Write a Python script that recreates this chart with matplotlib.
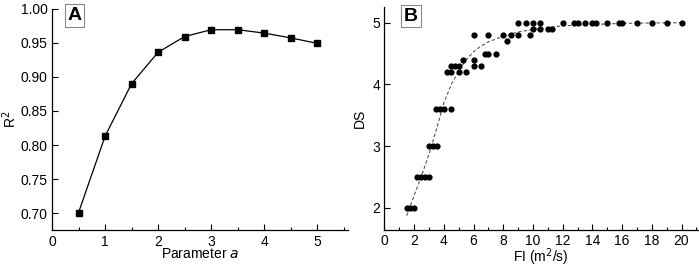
import matplotlib
matplotlib.use('Agg')
import matplotlib.pyplot as plt
from matplotlib.ticker import MultipleLocator

plt.rcParams['font.family'] = ['Liberation Sans', 'DejaVu Sans']
plt.rcParams['font.size'] = 10

# Panel A: R^2 vs parameter a
param_a = [0.5, 1.0, 1.5, 2.0, 2.5, 3.0, 3.5, 4.0, 4.5, 5.0]
r2 = [0.701, 0.813, 0.890, 0.936, 0.959, 0.969, 0.969, 0.964, 0.957, 0.949]

# Panel B: DS vs FI scatter
fi = [1.5, 1.75, 2.0,
      2.22, 2.49, 2.74, 3.0,
      2.98, 3.25, 3.52,
      3.5, 3.74, 4.0, 4.5,
      4.24, 4.48, 5.02, 5.5,
      4.5, 4.75, 5.0, 6.0, 6.5,
      5.27, 6.0,
      6.75, 7.0, 7.5,
      8.27,
      6.0, 7.0, 8.0, 8.5, 9.0, 9.78,
      10.0, 10.5, 11.0, 11.25,
      9.0, 9.5, 10.0, 10.5, 12.0, 12.76, 13.0, 13.5, 14.0, 14.26,
      15.0, 15.76, 16.0, 17.0, 18.0, 19.0, 20.0]
ds = [2.0, 2.0, 2.0,
      2.5, 2.5, 2.5, 2.5,
      3.0, 3.0, 3.0,
      3.6, 3.6, 3.6, 3.6,
      4.2, 4.2, 4.2, 4.2,
      4.3, 4.3, 4.3, 4.3, 4.3,
      4.4, 4.4,
      4.5, 4.5, 4.5,
      4.7,
      4.8, 4.8, 4.8, 4.8, 4.8, 4.8,
      4.9, 4.9, 4.9, 4.9,
      5.0, 5.0, 5.0, 5.0, 5.0, 5.0, 5.0, 5.0, 5.0, 5.0,
      5.0, 5.0, 5.0, 5.0, 5.0, 5.0, 5.0]

# fitted curve
fit_x = [1.5, 2.0, 2.5, 3.0, 3.5, 4.0, 4.5, 5.0, 5.5, 6.0, 6.5, 7.0,
         8.0, 9.0, 10.0, 11.0, 12.0, 14.0, 16.0, 18.0, 20.0]
fit_y = [1.87, 2.2, 2.52, 2.87, 3.27, 3.70, 4.0, 4.22, 4.40, 4.53, 4.62, 4.69,
         4.78, 4.85, 4.89, 4.92, 4.95, 4.97, 4.99, 4.995, 5.0]

fig = plt.figure(figsize=(6.99, 2.67), dpi=100)
axA = fig.add_axes([0.0744, 0.137, 0.4236, 0.831])
axB = fig.add_axes([0.550, 0.139, 0.448, 0.836])

for ax in (axA, axB):
    ax.spines['top'].set_visible(False)
    ax.spines['right'].set_visible(False)
    for s in ('left', 'bottom'):
        ax.spines[s].set_linewidth(0.9)
    ax.tick_params(which='both', direction='in', width=0.8, labelsize=10, pad=3)
    ax.tick_params(which='major', length=4)
    ax.tick_params(which='minor', length=2.5)

# Panel A
axA.plot(param_a, r2, color='black', lw=0.9, marker='s', markersize=4.2)
axA.set_xlim(0, 5.58)
axA.set_ylim(0.675, 1.0)
axA.xaxis.set_major_locator(MultipleLocator(1))
axA.xaxis.set_minor_locator(MultipleLocator(0.5))
axA.yaxis.set_major_locator(MultipleLocator(0.05))
axA.yaxis.set_major_formatter(plt.FormatStrFormatter('%.2f'))
axA.set_xlabel('Parameter $\\mathit{a}$', labelpad=-1)
axA.set_ylabel('R$^2$', labelpad=1)

# Panel B
axB.plot(fit_x, fit_y, color='#555555', lw=0.8, ls=(0, (3, 2)))
axB.scatter(fi, ds, color='black', s=12, zorder=3)
axB.set_xlim(0, 21.08)
axB.set_ylim(1.64, 5.26)
axB.xaxis.set_major_locator(MultipleLocator(2))
axB.xaxis.set_minor_locator(MultipleLocator(1))
axB.yaxis.set_major_locator(MultipleLocator(1))
axB.set_xlabel('FI (m$^2$/s)', labelpad=-1)
axB.set_ylabel('DS', labelpad=4)

box = dict(boxstyle='square,pad=0.15', facecolor='white', edgecolor='#888888', lw=0.8)
fig.text(0.1066, 0.942, 'A', fontsize=14, fontweight='bold', ha='center', va='center', bbox=box)
fig.text(0.588, 0.940, 'B', fontsize=14, fontweight='bold', ha='center', va='center', bbox=box)

fig.savefig('out.png', dpi=100)
